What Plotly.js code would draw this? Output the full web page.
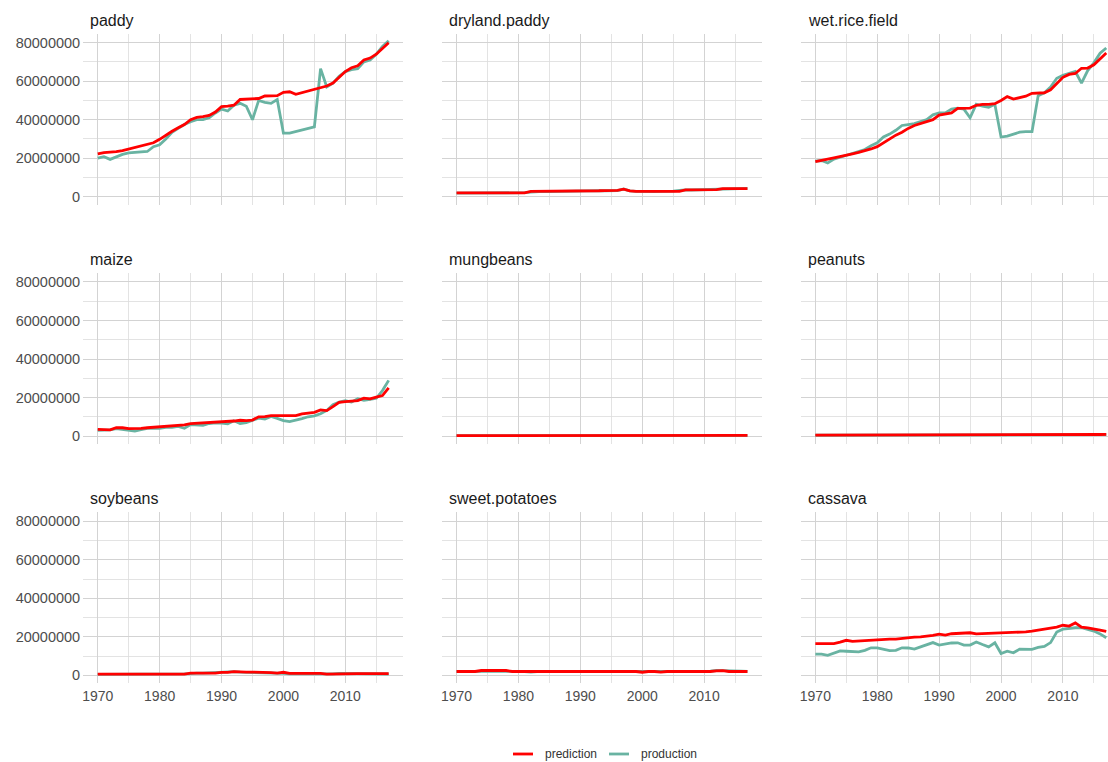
<!DOCTYPE html>
<html>
<head>
<meta charset="utf-8">
<script src="https://cdn.plot.ly/plotly-3.0.1.min.js"></script>
<style>html,body{margin:0;padding:0;background:#fff;}#chart{width:1108px;height:762px;}</style>
</head>
<body>
<div id="chart"></div>
<script>
// ---- data (values in millions of tonnes) ----
const UNIT = 1e6;
const years = [1970,1971,1972,1973,1974,1975,1976,1977,1978,1979,
               1980,1981,1982,1983,1984,1985,1986,1987,1988,1989,
               1990,1991,1992,1993,1994,1995,1996,1997,1998,1999,
               2000,2001,2002,2003,2004,2005,2006,2007,2008,2009,
               2010,2011,2012,2013,2014,2015,2016,2017];
const crops = ["paddy","dryland.paddy","wet.rice.field","maize","mungbeans","peanuts","soybeans","sweet.potatoes","cassava"];
const seriesNames = ["prediction","production"];
const xTickVals = [1970,1980,1990,2000,2010];
const xTickText = ["1970","1980","1990","2000","2010"];
const yTickVals = [0,20000000,40000000,60000000,80000000];
const yTickText = ["0","20000000","40000000","60000000","80000000"];

const paddy_prediction = [22.2,22.9,23.2,23.4,24.0,24.8,25.6,26.2,26.8,28.0,
  29.8,32.0,34.0,35.8,37.5,40.0,41.2,41.6,42.2,44.0,
  46.8,47.0,47.5,50.5,50.6,50.6,51.0,52.3,52.3,52.5,
  54.2,54.5,53.2,54.0,54.8,55.8,56.5,57.5,59.0,62.0,
  65.0,67.0,68.0,71.0,72.0,74.0,77.0,80.0];
const paddy_production = [20.0,20.8,19.4,20.8,22.0,22.8,23.0,23.0,23.5,26.0,
  27.0,30.0,33.5,35.5,37.5,39.0,40.0,40.0,41.0,43.5,
  45.5,44.5,47.5,48.5,47.0,40.0,50.0,49.0,48.5,50.5,
  33.0,33.0,33.8,34.6,35.5,36.3,66.5,57.0,59.0,62.5,
  65.0,66.0,66.5,70.0,71.0,74.0,78.0,81.0];

const dryland_prediction = [2.0,2.0,2.0,2.0,2.0,2.0,2.0,2.0,2.0,2.0,
  2.0,2.0,2.8,2.8,2.8,2.8,2.8,2.8,2.8,3.1,
  3.1,3.1,3.1,3.1,3.2,3.3,3.3,3.9,3.0,2.8,
  2.8,2.8,2.8,2.8,2.8,2.8,2.8,3.6,3.6,3.6,
  3.6,3.6,3.7,4.2,4.2,4.2,4.2,4.2];
const dryland_production = [1.9,1.9,1.9,2.0,1.9,2.0,1.9,2.0,1.9,2.0,
  2.0,2.1,2.4,2.7,2.8,2.7,2.8,2.8,2.9,3.0,
  3.0,3.1,3.0,3.2,3.1,3.3,3.2,4.0,3.1,2.8,
  2.7,2.8,2.7,2.8,2.7,2.9,3.3,3.6,3.5,3.6,
  3.7,3.6,3.8,4.1,4.2,4.1,4.2,4.3];

const wetrice_prediction = [18.2,19.0,19.5,20.2,20.8,21.6,22.3,23.0,23.8,24.8,
  26.0,28.0,30.3,32.0,33.5,35.5,37.0,38.0,38.8,40.0,
  42.4,43.0,43.5,45.9,46.0,46.0,47.5,48.0,48.0,48.3,
  50.0,52.0,50.7,51.5,52.2,53.7,53.8,54.0,55.5,59.0,
  62.0,63.5,64.0,66.7,66.8,68.5,71.5,74.6];
const wetrice_production = [18.5,18.8,17.5,19.5,20.5,21.5,22.5,23.5,24.5,26.5,
  28.0,31.0,32.5,34.5,37.0,37.5,38.0,39.0,40.0,42.5,
  43.5,43.5,45.5,46.0,45.5,41.0,48.0,47.0,46.5,48.0,
  31.0,31.5,32.5,33.5,33.8,33.8,52.5,54.0,57.0,61.5,
  63.0,64.0,65.0,59.0,65.5,69.5,74.5,77.2];

const maize_prediction = [3.5,3.2,3.2,4.3,4.3,3.8,3.8,4.0,4.3,4.5,
  4.8,5.0,5.5,5.7,5.8,6.4,6.6,6.6,7.0,7.3,
  7.4,7.5,7.8,8.2,8.0,8.3,10.0,10.1,10.6,10.6,
  10.6,10.6,10.6,11.5,12.0,12.3,13.6,13.2,15.3,17.5,
  17.9,18.0,18.4,19.7,19.3,20.2,21.0,25.0];
const maize_production = [3.0,3.0,3.2,3.8,3.5,3.2,2.6,3.3,4.0,4.0,
  4.0,4.5,4.5,5.0,4.0,6.0,5.8,5.5,6.5,6.8,
  6.7,6.3,7.9,6.5,6.9,8.2,9.3,8.8,10.2,9.2,
  8.0,7.5,8.2,9.0,10.0,10.5,11.6,13.3,16.3,17.6,
  18.3,17.6,19.4,18.5,19.0,19.6,23.6,28.9];

const mungbeans_prediction = [0.25,0.25,0.25,0.25,0.25,0.25,0.25,0.25,0.25,0.25,
  0.25,0.25,0.25,0.25,0.25,0.3,0.3,0.3,0.3,0.3,
  0.3,0.3,0.3,0.3,0.3,0.3,0.3,0.3,0.3,0.3,
  0.3,0.3,0.3,0.3,0.3,0.3,0.3,0.3,0.3,0.3,
  0.3,0.3,0.3,0.3,0.3,0.3,0.3,0.3];
const mungbeans_production = [0.2,0.2,0.2,0.2,0.2,0.2,0.2,0.2,0.2,0.2,
  0.2,0.2,0.2,0.2,0.25,0.3,0.3,0.3,0.3,0.3,
  0.3,0.3,0.3,0.3,0.3,0.3,0.3,0.3,0.3,0.3,
  0.3,0.3,0.3,0.3,0.3,0.3,0.3,0.3,0.3,0.3,
  0.3,0.3,0.3,0.25,0.25,0.25,0.25,0.25];

const peanuts_prediction = [0.45,0.45,0.45,0.45,0.45,0.45,0.45,0.45,0.45,0.45,
  0.45,0.45,0.45,0.45,0.45,0.8,0.8,0.8,0.8,0.8,
  0.8,0.8,0.8,0.8,0.8,0.8,0.8,0.8,0.8,0.8,
  0.8,0.8,0.8,0.8,0.8,0.8,0.8,0.8,0.8,0.8,
  0.8,0.8,0.8,0.8,0.8,0.8,0.8,0.85];
const peanuts_production = [0.4,0.4,0.4,0.4,0.4,0.4,0.4,0.45,0.45,0.45,
  0.45,0.5,0.5,0.6,0.6,0.75,0.75,0.75,0.75,0.75,
  0.75,0.75,0.75,0.75,0.75,0.75,0.75,0.75,0.75,0.75,
  0.75,0.75,0.75,0.75,0.75,0.75,0.75,0.75,0.75,0.75,
  0.75,0.75,0.75,0.75,0.75,0.75,0.75,0.75];

const soybeans_prediction = [0.6,0.6,0.6,0.6,0.6,0.6,0.6,0.6,0.6,0.6,
  0.6,0.6,0.6,0.6,0.6,1.1,1.1,1.1,1.1,1.1,
  1.5,1.5,1.9,1.7,1.7,1.7,1.7,1.7,1.4,1.2,
  1.6,1.0,1.0,1.0,0.7,0.7,1.0,0.6,0.7,0.9,
  0.9,0.9,0.9,0.9,0.9,0.9,0.9,0.9];
const soybeans_production = [0.5,0.5,0.5,0.5,0.6,0.6,0.5,0.5,0.6,0.7,
  0.65,0.7,0.5,0.55,0.8,0.9,1.2,1.1,1.3,1.3,
  1.5,1.6,1.9,1.7,1.6,1.7,1.5,1.35,1.3,1.4,
  1.0,0.8,0.67,0.67,0.72,0.81,0.75,0.59,0.78,0.97,
  0.91,0.85,0.84,0.78,0.95,0.96,0.86,0.7];

const sweetpotatoes_prediction = [2.0,2.0,2.0,2.0,2.5,2.5,2.5,2.5,2.5,2.0,
  2.0,2.0,2.0,2.0,2.0,2.0,2.0,2.0,2.0,2.0,
  2.0,2.0,2.0,2.0,2.0,2.0,2.0,2.0,2.0,2.0,
  1.6,2.0,2.0,1.7,2.0,2.0,1.8,1.8,1.8,1.8,
  2.0,2.0,2.3,2.4,2.0,2.0,2.0,2.0];
const sweetpotatoes_production = [2.1,2.1,2.1,2.1,2.4,2.4,2.4,2.3,2.2,2.1,
  2.1,2.0,1.7,2.0,2.0,2.0,2.0,2.0,2.0,2.0,
  2.0,2.0,2.0,2.0,1.8,2.0,2.0,1.8,2.0,2.0,
  1.8,1.7,1.7,1.9,1.9,1.8,1.9,1.9,1.9,2.0,
  2.05,2.2,2.5,2.4,2.4,2.3,2.2,2.0];

const cassava_prediction = [16.5,16.5,16.5,16.5,17.2,18.2,17.6,17.8,18.2,18.5,
  18.6,18.7,18.8,18.8,19.2,19.7,19.8,20.0,20.3,20.8,
  21.4,20.9,21.6,21.8,22.0,22.1,21.5,21.6,21.8,21.8,
  21.9,22.0,22.1,22.3,22.6,23.0,23.5,23.9,24.2,25.0,
  26.0,25.6,27.2,25.0,24.6,24.2,23.5,22.8];
const cassava_production = [11.0,11.0,10.4,11.5,12.7,12.5,12.4,12.2,13.0,14.3,
  14.3,13.5,12.8,13.0,14.3,14.2,13.6,14.8,16.0,17.0,
  15.7,16.2,16.8,16.9,15.7,15.7,17.3,16.0,14.8,16.9,
  11.3,12.5,11.7,13.6,13.6,13.5,14.5,15.0,17.0,22.5,
  24.0,24.5,24.7,24.7,24.0,23.0,21.5,19.5];

const predictionSeries = [paddy_prediction, dryland_prediction, wetrice_prediction,
  maize_prediction, mungbeans_prediction, peanuts_prediction,
  soybeans_prediction, sweetpotatoes_prediction, cassava_prediction];
const productionSeries = [paddy_production, dryland_production, wetrice_production,
  maize_production, mungbeans_production, peanuts_production,
  soybeans_production, sweetpotatoes_production, cassava_production];

// ---- layout geometry (pixels) ----
const W = 1108, H = 762;
const colPx = [[83.2, 403.2], [442, 762], [800.8, 1108]];
const colRange = [[1967.65, 2019.35], [1967.65, 2019.35], [1967.65, 2017.28]];
const rowTop0 = 33.8, rowStep = 239.3, rowH = 170.7;
const COL_PRED = "#ff0000", COL_PROD = "#69b3a2";
const FONT = "Liberation Sans, Arial, Helvetica, sans-serif";

const traces = [];
const layout = {
  width: W, height: H,
  margin: {l: 0, r: 0, t: 0, b: 0, autoexpand: false},
  paper_bgcolor: "#ffffff", plot_bgcolor: "#ffffff",
  font: {family: FONT, color: "#4d4d4d"},
  showlegend: false,
  annotations: [], shapes: []
};

crops.forEach((name, i) => {
  const r = Math.floor(i / 3), c = i % 3;
  const ax = i === 0 ? "" : String(i + 1);
  const top = rowTop0 + rowStep * r, bot = top + rowH;
  const ys = v => v.map(x => x * UNIT);
  traces.push({x: years, y: ys(productionSeries[i]), type: "scatter", mode: "lines",
    name: seriesNames[1], line: {color: COL_PROD, width: 2.8}, xaxis: "x" + ax, yaxis: "y" + ax});
  traces.push({x: years, y: ys(predictionSeries[i]), type: "scatter", mode: "lines",
    name: seriesNames[0], line: {color: COL_PRED, width: 2.8}, xaxis: "x" + ax, yaxis: "y" + ax});
  layout["xaxis" + ax] = {
    domain: [colPx[c][0] / W, colPx[c][1] / W], anchor: "y" + ax,
    range: colRange[c], tickmode: "array", tickvals: xTickVals, ticktext: xTickText,
    showticklabels: r === 2, ticks: "", showline: false, zeroline: false, ticklabelstandoff: 3,
    showgrid: true, gridcolor: "#d3d3d3", gridwidth: 1, automargin: false,
    minor: {tickmode: "array", tickvals: [1975,1985,1995,2005,2015], showgrid: true, gridcolor: "#dcdcdc", gridwidth: 0.8},
    tickfont: {size: 14, color: "#4d4d4d", family: FONT}, fixedrange: true
  };
  layout["yaxis" + ax] = {
    domain: [1 - bot / H, 1 - top / H], anchor: "x" + ax,
    range: [-4.03e6, 84.6e6], tickmode: "array", tickvals: yTickVals, ticktext: yTickText,
    showticklabels: c === 0, ticks: "", showline: false, zeroline: false, ticklabelstandoff: 2,
    showgrid: true, gridcolor: "#d3d3d3", gridwidth: 1, automargin: false,
    minor: {tickmode: "array", tickvals: [10000000,30000000,50000000,70000000], showgrid: true, gridcolor: "#dcdcdc", gridwidth: 0.8},
    tickfont: {size: 14.5, color: "#4d4d4d", family: FONT}, fixedrange: true
  };
  layout.annotations.push({text: name, xref: "paper", yref: "paper",
    x: (colPx[c][0] + 5.2) / W, y: 1 - (20 + rowStep * r) / H, xanchor: "left", yanchor: "middle",
    showarrow: false, font: {size: 16, color: "#1a1a1a", family: FONT}});
});

// ---- legend (bottom, centred) ----
const legY = 1 - 754 / H;
const legendItems = [
  {name: seriesNames[0], color: COL_PRED, x0: 513, x1: 533, tx: 543},
  {name: seriesNames[1], color: COL_PROD, x0: 609, x1: 629, tx: 639}
];
legendItems.forEach(it => {
  layout.shapes.push({type: "line", xref: "paper", yref: "paper",
    x0: it.x0 / W, x1: it.x1 / W, y0: legY, y1: legY, line: {color: it.color, width: 2.8}});
  layout.annotations.push({text: it.name, xref: "paper", yref: "paper",
    x: it.tx / W, y: legY, xanchor: "left", yanchor: "middle", showarrow: false,
    font: {size: 12, color: "#333333", family: FONT}});
});

Plotly.newPlot("chart", traces, layout, {displayModeBar: false, staticPlot: true});
</script>
</body>
</html>
